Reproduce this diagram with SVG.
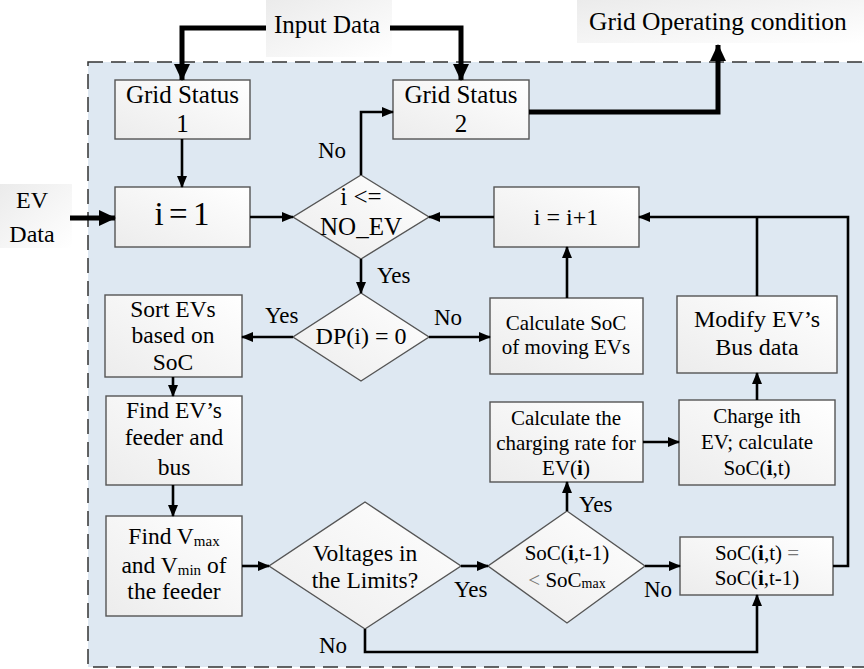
<svg xmlns="http://www.w3.org/2000/svg" width="864" height="669" viewBox="0 0 864 669">
<defs>
<linearGradient id="boxg" x1="0" y1="1" x2="1" y2="0">
<stop offset="0" stop-color="#ececec"/>
<stop offset="1" stop-color="#ffffff"/>
</linearGradient>
<linearGradient id="lblg" x1="0" y1="0" x2="1" y2="1">
<stop offset="0" stop-color="#ebebeb"/>
<stop offset="1" stop-color="#ffffff"/>
</linearGradient>
<marker id="ah" markerUnits="userSpaceOnUse" markerWidth="12" markerHeight="10" refX="11" refY="5" orient="auto">
<path d="M0,0 L12,5 L0,10 z" fill="#000"/>
</marker>
<marker id="ahb" markerUnits="userSpaceOnUse" markerWidth="17" markerHeight="16" refX="16" refY="8" orient="auto">
<path d="M0,0 L17,8 L0,16 z" fill="#000"/>
</marker>
</defs>
<style>
text{font-family:"Liberation Serif","Times New Roman",serif;fill:#000;}
.box{fill:url(#boxg);stroke:#555;stroke-width:1.4;}
.t25{font-size:25px;text-anchor:middle;}
.t24{font-size:24px;text-anchor:middle;}
.t23{font-size:23.5px;text-anchor:middle;}
.t21{font-size:21px;text-anchor:middle;}
.lbl{font-size:23px;}
.thin{fill:none;stroke:#000;stroke-width:2.6;marker-end:url(#ah);}
.plain{fill:none;stroke:#000;stroke-width:2.6;}
.thick{fill:none;stroke:#000;stroke-width:5;marker-end:url(#ahb);}
.sub{font-size:15px;}
.gr{fill:#777;}
</style>

<!-- outer dashed region -->
<rect x="88" y="62" width="800" height="605" fill="#dee8f2" stroke="#333" stroke-width="1.5" stroke-dasharray="15,8"/>

<!-- external labels -->
<g id="input-data">
<rect x="266" y="0" width="126" height="57" fill="url(#lblg)"/>
<text x="274" y="33" style="font-size:25px">Input Data</text>
</g>
<g id="grid-operating">
<rect x="577" y="0" width="287" height="43" fill="url(#lblg)"/>
<text x="589" y="30" style="font-size:25.5px">Grid Operating condition</text>
</g>
<g id="ev-data">
<rect x="0" y="184" width="72" height="64" fill="url(#lblg)"/>
<text x="32" y="208" class="t24">EV</text>
<text x="32" y="242" class="t24">Data</text>
</g>

<!-- nodes -->
<g id="grid-status-1">
<rect class="box" x="115" y="80" width="135" height="59"/>
<text x="182.5" y="103" class="t25">Grid Status</text>
<text x="182.5" y="132" class="t25">1</text>
</g>
<g id="grid-status-2">
<rect class="box" x="393" y="80" width="136" height="59"/>
<text x="461" y="103" class="t25">Grid Status</text>
<text x="461" y="132" class="t25">2</text>
</g>
<g id="i-eq-1">
<rect class="box" x="115" y="187" width="135" height="60"/>
<text x="182" y="225" style="font-size:33px;text-anchor:middle;word-spacing:-3px">i = 1</text>
</g>
<g id="decision-noev">
<polygon class="box" points="361,175 429,217 361,259 293,217"/>
<text x="361" y="205" style="font-size:25px;text-anchor:middle">i &lt;=</text>
<text x="361" y="235" style="font-size:25px;text-anchor:middle">NO_EV</text>
</g>
<g id="i-inc">
<rect class="box" x="494" y="187" width="145" height="60"/>
<text x="566" y="225" class="t24">i = i+1</text>
</g>
<g id="decision-dp">
<polygon class="box" points="361,293 429,337 361,381 293,337"/>
<text x="361" y="344" class="t24">DP(i) = 0</text>
</g>
<g id="sort-evs">
<rect class="box" x="105" y="295" width="137" height="82"/>
<text x="173" y="317" class="t23">Sort EVs</text>
<text x="173" y="343" class="t23">based on</text>
<text x="173" y="370" class="t23">SoC</text>
</g>
<g id="calc-soc-moving">
<rect class="box" x="490" y="298" width="153" height="76"/>
<text x="566" y="330" class="t21">Calculate SoC</text>
<text x="566" y="354" class="t21">of moving EVs</text>
</g>
<g id="modify-bus">
<rect class="box" x="677" y="296" width="160" height="77"/>
<text x="757" y="327" class="t24">Modify EV’s</text>
<text x="757" y="355" class="t24">Bus data</text>
</g>
<g id="find-feeder">
<rect class="box" x="106" y="396" width="136" height="89"/>
<text x="174" y="418" class="t23">Find EV’s</text>
<text x="174" y="445" class="t23">feeder and</text>
<text x="174" y="475" class="t23">bus</text>
</g>
<g id="calc-charging">
<rect class="box" x="490" y="402" width="153" height="80"/>
<text x="566" y="425" class="t21">Calculate the</text>
<text x="566" y="450" class="t21">charging rate for</text>
<text x="566" y="475" class="t21">EV(<tspan font-weight="bold">i</tspan>)</text>
</g>
<g id="charge-ith">
<rect class="box" x="679" y="400" width="156" height="85"/>
<text x="757" y="423" class="t21">Charge ith</text>
<text x="757" y="449" class="t21">EV; calculate</text>
<text x="757" y="475" class="t21">SoC(<tspan font-weight="bold">i</tspan>,t)</text>
</g>
<g id="find-vmax">
<rect class="box" x="106" y="516" width="136" height="100"/>
<text x="174" y="544" class="t23">Find V<tspan class="sub" dy="2">max</tspan></text>
<text x="174" y="573" class="t23">and V<tspan class="sub" dy="2">min</tspan><tspan dy="-2"> of</tspan></text>
<text x="174" y="599" class="t23">the feeder</text>
</g>
<g id="decision-voltage">
<polygon class="box" points="365,502 461,566 365,629 269,566"/>
<text x="365" y="561" class="t23">Voltages in</text>
<text x="365" y="588" class="t23">the Limits?</text>
</g>
<g id="decision-soc">
<polygon class="box" points="567,511 645,566 567,623 488,566"/>
<text x="567" y="560" class="t21">SoC(<tspan font-weight="bold">i</tspan>,t-1)</text>
<text x="567" y="587" class="t21"><tspan class="gr">&lt;</tspan> SoC<tspan style="font-size:14px" dy="1">max</tspan></text>
</g>
<g id="soc-hold">
<rect class="box" x="680" y="537" width="153" height="58"/>
<text x="757" y="560" class="t21">SoC(<tspan font-weight="bold">i</tspan>,t) <tspan class="gr">=</tspan></text>
<text x="757" y="585" class="t21">SoC(<tspan font-weight="bold">i</tspan>,t-1)</text>
</g>

<!-- connectors -->
<g id="connectors">
<path class="thick" d="M266,28 H182 V80"/>
<path class="thick" d="M390,28 H461 V80"/>
<path class="thick" d="M529,112 H718 V45"/>
<path class="thick" d="M70,218 H115"/>
<path class="thin" d="M182,139 V187"/>
<path class="thin" d="M250,217 H293"/>
<path class="thin" d="M361,175 V112 H393"/>
<path class="thin" d="M494,217 H429"/>
<path class="thin" d="M361,259 V293"/>
<path class="thin" d="M293,337 H242"/>
<path class="thin" d="M429,337 H490"/>
<path class="thin" d="M567,298 V247"/>
<path class="thin" d="M173,377 V396"/>
<path class="thin" d="M173,485 V516"/>
<path class="thin" d="M242,566 H269"/>
<path class="thin" d="M461,566 H488"/>
<path class="thin" d="M365,629 V652 H757 V595"/>
<path class="thin" d="M567,511 V482"/>
<path class="thin" d="M645,566 H680"/>
<path class="thin" d="M643,442 H679"/>
<path class="thin" d="M757,400 V373"/>
<path class="plain" d="M757,296 V217"/>
<path class="thin" d="M833,566 H848 V217 H639"/>
<text class="lbl" x="318" y="158">No</text>
<text class="lbl" x="377" y="283">Yes</text>
<text class="lbl" x="265" y="323">Yes</text>
<text class="lbl" x="434" y="325">No</text>
<text class="lbl" x="454" y="597">Yes</text>
<text class="lbl" x="579" y="512">Yes</text>
<text class="lbl" x="644" y="597">No</text>
<text class="lbl" x="319" y="653">No</text>
</g>
</svg>
